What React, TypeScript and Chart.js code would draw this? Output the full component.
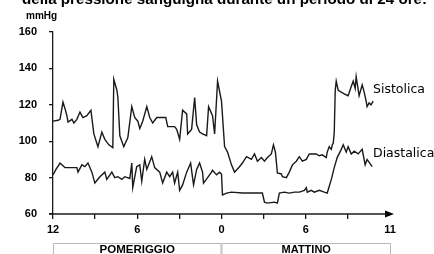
import React, { useEffect, useRef } from "react";
import { Chart, registerables } from "chart.js";

Chart.register(...registerables);

// hours since noon (12) for each reading
const sysHours = [0, 0.36, 0.5, 0.71, 0.85, 0.99, 1.07, 1.35, 1.49, 1.7, 1.92, 2.13, 2.41, 2.7, 2.91, 3.2, 3.48, 3.69, 3.98, 4.26, 4.33, 4.55, 4.62, 4.76, 5.04, 5.33, 5.61, 5.82, 6.04, 6.18, 6.39, 6.68, 6.89, 7.1, 7.39, 7.74, 8.03, 8.17, 8.45, 8.66, 8.81, 9.02, 9.23, 9.52, 9.59, 9.87, 10.09, 10.23, 10.44, 10.65, 10.94, 11.08, 11.36, 11.51, 11.72, 12.0, 12.22, 12.43, 12.71, 12.93, 13.28, 13.49, 13.78, 14.13, 14.35, 14.56, 14.84, 15.06, 15.27, 15.55, 15.7, 15.84, 15.98, 16.26, 16.34, 16.62, 16.83, 17.05, 17.33, 17.54, 17.76, 18.04, 18.25, 18.47, 18.75, 18.96, 19.18, 19.46, 19.53, 19.67, 19.82, 19.89, 19.96, 20.03, 20.1, 20.17, 20.31, 20.74, 21.02, 21.24, 21.38, 21.52, 21.59, 21.8, 22.02, 22.16, 22.3, 22.37, 22.51, 22.65, 22.8];
const sysValues = [111, 111.5, 112, 121.5, 118, 114, 110.5, 112, 110, 112, 116, 113, 114, 117, 104, 97, 105, 101, 98, 96.5, 134, 128, 124, 103, 97, 102, 119, 113, 111, 107, 111, 119, 113, 110, 113, 113, 113, 108, 108, 108, 106.5, 101, 117, 115, 104, 106.5, 124, 109, 105, 104, 103, 119, 114, 104, 133, 122, 97, 94, 87, 83, 86, 88, 91.5, 90, 93, 89, 91, 89, 91, 93, 98, 94, 82.5, 82, 80.5, 80, 83, 87, 89, 91.5, 89, 90, 93, 93, 93, 92, 92.5, 91, 94, 97, 95.5, 98, 99, 105, 128, 133, 128, 126, 125, 130, 133, 129, 135.5, 125, 131, 127, 122, 119, 121, 120, 122];

const diaHours = [0, 0.21, 0.5, 0.85, 1.21, 1.7, 1.78, 2.06, 2.27, 2.49, 2.77, 2.98, 3.34, 3.69, 3.83, 4.19, 4.4, 4.62, 4.9, 5.11, 5.47, 5.61, 5.68, 5.96, 6.18, 6.32, 6.53, 6.68, 7.03, 7.24, 7.6, 7.81, 8.1, 8.31, 8.52, 8.66, 8.88, 9.02, 9.23, 9.52, 9.8, 10.01, 10.23, 10.44, 10.65, 10.72, 11.01, 11.29, 11.36, 11.65, 11.86, 12.0, 12.07, 12.36, 12.71, 13.49, 14.2, 14.91, 15.06, 15.27, 15.77, 15.98, 16.12, 16.48, 16.83, 17.19, 17.54, 17.9, 18.04, 18.11, 18.39, 18.61, 18.96, 19.32, 19.53, 19.82, 20.03, 20.24, 20.53, 20.67, 20.88, 21.02, 21.24, 21.45, 21.73, 22.02, 22.23, 22.37, 22.73];
const diaValues = [81.5, 84.5, 88, 85.5, 85.5, 85.5, 83, 87, 86, 88, 83, 77, 80.5, 83, 79, 83, 80, 80.5, 79, 80.5, 79.5, 88, 74.5, 86, 87, 78, 90, 84.5, 91.5, 85.5, 83, 77, 83, 80.5, 83, 77, 83, 73, 76, 83, 88, 76, 84.5, 88, 83, 77, 80, 83, 84, 81.5, 83, 82, 70.5, 71.5, 72, 71.5, 71.5, 71.5, 66.5, 66, 66.5, 66, 71.5, 72, 71.5, 72, 72, 73, 74.5, 72, 73, 72, 73, 72, 71.5, 79, 85.5, 91, 95.5, 98, 94, 97, 93, 94.5, 93, 95.5, 87, 90, 86];

const xTickLabels: Record<number, string> = { 0: "12", 6: "6", 12: "0", 18: "6", 24: "11" };
const yTicks = [60, 80, 100, 120, 140, 160];
const seriesNames = ["Sistolica", "Diastalica"];
const periodNames = ["POMERIGGIO", "MATTINO"];
const titleText = "della pressione sanguigna durante un periodo di 24 ore:";
const unitText = "mmHg";

const lineColor = "#1a1a1a";

const decorPlugin = {
  id: "decor",
  afterDraw(chart: any) {
    const ctx = chart.ctx;
    const xs = chart.scales.x;
    const ys = chart.scales.y;
    ctx.save();
    // title (cut at top)
    ctx.fillStyle = "#000";
    ctx.font = "bold 15.2px 'Liberation Sans', Arial, sans-serif";
    ctx.textAlign = "left";
    ctx.textBaseline = "alphabetic";
    ctx.fillText(titleText, 22, 3.5);
    // unit
    ctx.font = "bold 10px 'Liberation Sans', Arial, sans-serif";
    ctx.fillText(unitText, 26, 19);
    // arrow at end of x axis
    const ay = ys.getPixelForValue(60);
    const ax = xs.getPixelForValue(24) + 3;
    ctx.beginPath();
    ctx.moveTo(ax + 1, ay);
    ctx.lineTo(ax - 8, ay - 3.5);
    ctx.lineTo(ax - 8, ay + 3.5);
    ctx.closePath();
    ctx.fill();
    ctx.strokeStyle = lineColor;
    ctx.lineWidth = 1.3;
    ctx.beginPath();
    ctx.moveTo(xs.getPixelForValue(0) - 4, ay);
    ctx.lineTo(ax - 6, ay);
    ctx.stroke();
    // series labels
    ctx.font = "12.5px 'DejaVu Sans', sans-serif";
    ctx.textBaseline = "middle";
    ctx.fillText(seriesNames[0], 373, ys.getPixelForValue(128.5));
    ctx.fillText(seriesNames[1], 373, ys.getPixelForValue(93));
    // period boxes
    const x0 = xs.getPixelForValue(0);
    const x1 = xs.getPixelForValue(12);
    const x2 = xs.getPixelForValue(24) + 1;
    const top = 243.5;
    ctx.strokeStyle = "#b8b8b8";
    ctx.lineWidth = 1;
    [[x0, x1], [x1, x2]].forEach(([a, b]) => {
      ctx.beginPath();
      ctx.moveTo(a + 0.5, 260);
      ctx.lineTo(a + 0.5, top);
      ctx.lineTo(b - 0.5, top);
      ctx.lineTo(b - 0.5, 260);
      ctx.stroke();
    });
    ctx.fillStyle = "#000";
    ctx.font = "bold 11.5px 'Liberation Sans', Arial, sans-serif";
    ctx.textAlign = "center";
    ctx.textBaseline = "middle";
    ctx.fillText(periodNames[0], (x0 + x1) / 2, 249.5);
    ctx.font = "bold 11px 'Liberation Sans', Arial, sans-serif";
    ctx.fillText(periodNames[1], (x1 + x2) / 2, 249.5);
    ctx.restore();
  },
};

export default function App() {
  const ref = useRef<HTMLCanvasElement>(null);
  useEffect(() => {
    if (!ref.current) return;
    const chart = new Chart(ref.current, {
      type: "line",
      data: {
        datasets: [
          {
            label: seriesNames[0],
            data: sysHours.map((h, i) => ({ x: h, y: sysValues[i] })),
            borderColor: lineColor,
            borderWidth: 1.4,
            pointRadius: 0,
            tension: 0,
          },
          {
            label: seriesNames[1],
            data: diaHours.map((h, i) => ({ x: h, y: diaValues[i] })),
            borderColor: lineColor,
            borderWidth: 1.4,
            pointRadius: 0,
            tension: 0,
          },
        ],
      },
      options: {
        animation: false,
        responsive: false,
        layout: { padding: { left: 0, top: 32, right: 44, bottom: 0 } },
        plugins: { legend: { display: false }, tooltip: { enabled: false } },
        scales: {
          x: {
            type: "linear",
            min: 0,
            max: 24,
            afterBuildTicks: (s: any) => {
              s.ticks = [0, 3, 6, 9, 12, 15, 18, 21, 24].map((v) => ({ value: v }));
            },
            afterFit: (s: any) => {
              s.height = 40;
            },
            border: { display: false },
            grid: {
              drawOnChartArea: false,
              drawTicks: true,
              tickLength: 5,
              lineWidth: 1.3,
              tickColor: (c: any) => (c.tick && c.tick.value === 24 ? "rgba(0,0,0,0)" : lineColor),
            },
            ticks: {
              autoSkip: false,
              maxRotation: 0,
              padding: 4,
              color: "#000",
              font: { family: "'Liberation Sans', Arial, sans-serif", size: 11, weight: "bold" },
              callback: (v: any) => xTickLabels[v as number] ?? "",
            },
          },
          y: {
            min: 60,
            max: 160,
            afterBuildTicks: (s: any) => {
              s.ticks = yTicks.map((v) => ({ value: v }));
            },
            afterFit: (s: any) => {
              s.width = 53;
            },
            border: { display: true, color: lineColor, width: 1.3 },
            grid: {
              drawOnChartArea: false,
              drawTicks: true,
              tickLength: 4,
              lineWidth: 1.3,
              color: lineColor,
            },
            ticks: {
              padding: 12,
              color: "#000",
              font: { family: "'Liberation Sans', Arial, sans-serif", size: 11, weight: "bold" },
            },
          },
        },
      },
      plugins: [decorPlugin],
    });
    return () => chart.destroy();
  }, []);
  return (
    <div style={{ position: "fixed", left: 0, top: 0, width: 434, height: 254, background: "#fff" }}>
      <canvas ref={ref} width={434} height={254} style={{ display: "block" }} />
    </div>
  );
}
